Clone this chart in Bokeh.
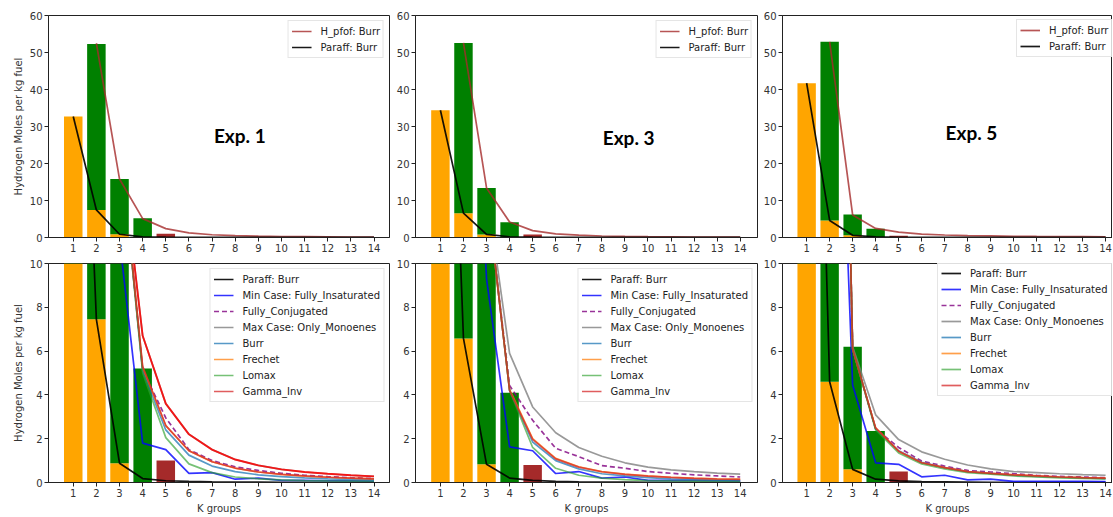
from bokeh.plotting import figure
from bokeh.layouts import column, row
from bokeh.models import FixedTicker, Range1d, Label
from bokeh.embed import file_html
from bokeh.resources import INLINE

# ---------------- data ----------------
k_groups = list(range(1, 15))          # x ticks / paraffin line x
k_lines = list(range(2, 15))           # x for the H lines
bar_k = [1, 2, 3, 4, 5]
exp_names = ["Exp. 1", "Exp. 3", "Exp. 5"]
y_label = "Hydrogen Moles per kg fuel"
x_label = "K groups"

# bars: orange (paraffin part), green top (stacked on orange), brown bar
exp1_orange = [32.7, 7.45, 0.88, 0, 0]
exp1_green_top = [0, 52.3, 15.8, 5.2, 0]
exp1_brown = [0, 0, 0, 0, 1.0]
exp3_orange = [34.4, 6.58, 0.83, 0, 0]
exp3_green_top = [0, 52.6, 13.4, 4.1, 0]
exp3_brown = [0, 0, 0, 0, 0.8]
exp5_orange = [41.7, 4.6, 0.6, 0, 0]
exp5_green_top = [0, 52.9, 6.2, 2.35, 0]
exp5_brown = [0, 0, 0, 0, 0.5]

# Paraff: Burr (x = 1..14)
exp1_paraff = [32.7, 7.45, 0.88, 0.18, 0.08, 0.05, 0.03, 0.02, 0.02, 0.01, 0.01, 0.01, 0.01, 0.01]
exp3_paraff = [34.4, 6.58, 0.83, 0.2, 0.1, 0.05, 0.03, 0.02, 0.02, 0.01, 0.01, 0.01, 0.01, 0.01]
exp5_paraff = [41.7, 4.6, 0.6, 0.15, 0.07, 0.04, 0.03, 0.02, 0.01, 0.01, 0.01, 0.01, 0.01, 0.01]

# H lines (x = 2..14)
exp1_min = [35, 11.1, 1.8, 1.5, 0.42, 0.45, 0.15, 0.2, 0.1, 0.1, 0.08, 0.07, 0.06]
exp1_conj = [52.5, 15.8, 5.15, 2.95, 1.5, 1.0, 0.72, 0.55, 0.42, 0.33, 0.27, 0.22, 0.18]
exp1_max = [52.5, 15.8, 6.7, 3.6, 2.2, 1.5, 1.05, 0.78, 0.6, 0.48, 0.4, 0.33, 0.28]
exp1_upper = [52.5, 15.8, 6.7, 3.6, 2.2, 1.5, 1.05, 0.78, 0.6, 0.48, 0.4, 0.33, 0.28]
exp1_burr = [52.5, 15.8, 5.1, 2.4, 1.25, 0.75, 0.5, 0.35, 0.27, 0.21, 0.17, 0.14, 0.12]
exp1_frechet = [52.5, 15.8, 5.25, 2.6, 1.45, 0.95, 0.65, 0.48, 0.37, 0.29, 0.24, 0.2, 0.17]
exp1_lomax = [52.5, 15.8, 5.0, 2.05, 0.85, 0.45, 0.25, 0.17, 0.12, 0.09, 0.07, 0.06, 0.05]
exp1_gamma = [52.5, 15.8, 5.3, 2.6, 1.45, 0.95, 0.66, 0.48, 0.37, 0.3, 0.24, 0.2, 0.17]

exp3_min = [30, 9.3, 1.63, 1.45, 0.41, 0.5, 0.2, 0.25, 0.1, 0.1, 0.1, 0.08, 0.07]
exp3_conj = [52.6, 13.4, 4.43, 2.84, 1.56, 1.18, 0.77, 0.65, 0.5, 0.42, 0.35, 0.3, 0.25]
exp3_max = [52.6, 13.4, 5.9, 3.45, 2.27, 1.6, 1.2, 0.9, 0.7, 0.58, 0.5, 0.43, 0.38]
exp3_burr = [52.6, 13.4, 4.2, 1.85, 1.0, 0.62, 0.4, 0.3, 0.22, 0.17, 0.14, 0.12, 0.1]
exp3_frechet = [52.6, 13.4, 4.25, 2.0, 1.1, 0.72, 0.5, 0.38, 0.3, 0.24, 0.2, 0.17, 0.15]
exp3_lomax = [52.6, 13.4, 4.2, 1.6, 0.65, 0.33, 0.2, 0.13, 0.09, 0.07, 0.06, 0.05, 0.04]
exp3_gamma = [52.6, 13.4, 4.2, 1.97, 1.08, 0.7, 0.49, 0.37, 0.29, 0.23, 0.19, 0.16, 0.14]

exp5_min = [32, 4.45, 0.9, 0.83, 0.26, 0.33, 0.12, 0.15, 0.05, 0.05, 0.05, 0.05, 0.04]
exp5_conj = [52.9, 6.1, 2.45, 1.6, 0.98, 0.75, 0.55, 0.48, 0.4, 0.33, 0.28, 0.25, 0.22]
exp5_max = [52.9, 6.2, 3.09, 1.96, 1.4, 1.06, 0.8, 0.62, 0.5, 0.45, 0.4, 0.36, 0.33]
exp5_burr = [52.9, 6.1, 2.45, 1.45, 0.92, 0.68, 0.5, 0.42, 0.33, 0.28, 0.24, 0.21, 0.18]
exp5_frechet = [52.9, 6.1, 2.49, 1.43, 0.9, 0.68, 0.5, 0.42, 0.35, 0.3, 0.25, 0.22, 0.2]
exp5_lomax = [52.9, 6.1, 2.4, 1.35, 0.85, 0.62, 0.45, 0.38, 0.3, 0.25, 0.21, 0.19, 0.16]
exp5_gamma = [52.9, 6.1, 2.49, 1.43, 0.9, 0.68, 0.5, 0.42, 0.35, 0.3, 0.25, 0.22, 0.2]

top_yticks = [0, 10, 20, 30, 40, 50, 60]
bottom_yticks = [0, 2, 4, 6, 8, 10]

exps = [
    dict(orange=exp1_orange, green=exp1_green_top, brown=exp1_brown, paraff=exp1_paraff,
         mn=exp1_min, conj=exp1_conj, mx=exp1_max, burr=exp1_burr, frechet=exp1_frechet,
         lomax=exp1_lomax, gamma=exp1_gamma, upper=exp1_upper),
    dict(orange=exp3_orange, green=exp3_green_top, brown=exp3_brown, paraff=exp3_paraff,
         mn=exp3_min, conj=exp3_conj, mx=exp3_max, burr=exp3_burr, frechet=exp3_frechet,
         lomax=exp3_lomax, gamma=exp3_gamma, upper=None),
    dict(orange=exp5_orange, green=exp5_green_top, brown=exp5_brown, paraff=exp5_paraff,
         mn=exp5_min, conj=exp5_conj, mx=exp5_max, burr=exp5_burr, frechet=exp5_frechet,
         lomax=exp5_lomax, gamma=exp5_gamma, upper=None),
]

# ---------------- layout ----------------
FONT = "DejaVu Sans"
cols = [  # width, border_left, border_right, x0, x1
    (392, 48, 3, -0.07, 14.67),
    (368, 23, 3, -0.08, 14.75),
    (352, 20, 0, -0.05, 14.30),
]
TOP_H, TOP_BT, TOP_BB = 256, 15, 19
BOT_H, BOT_BT, BOT_BB = 260, 7, 33
exp_label_pos = [(7.08, 27.5), (8.04, 27.0), (7.04, 28.3)]


def make_fig(col, height, bt, bb, ymax, yticks):
    w, bl, br, x0, x1 = col
    p = figure(width=w, height=height, output_backend="svg", toolbar_location=None,
               x_range=Range1d(x0, x1), y_range=Range1d(0, ymax),
               min_border_left=bl, min_border_right=br, min_border_top=bt,
               min_border_bottom=bb)
    p.xgrid.visible = False
    p.ygrid.visible = False
    p.outline_line_color = "#222222"
    p.outline_line_width = 1
    p.border_fill_color = "white"
    for ax in (p.xaxis[0], p.yaxis[0]):
        ax.major_tick_out = 4
        ax.major_tick_in = 0
        ax.minor_tick_line_color = None
        ax.axis_line_color = "#222222"
        ax.major_tick_line_color = "#222222"
        ax.major_label_text_font = FONT
        ax.major_label_text_font_size = "10px"
        ax.major_label_text_color = "#333333"
        ax.major_label_standoff = 2
        ax.axis_label_text_font = FONT
        ax.axis_label_text_font_size = "10px"
        ax.axis_label_text_font_style = "normal"
        ax.axis_label_text_color = "#333333"
        ax.axis_label_standoff = 3
    p.xaxis.ticker = FixedTicker(ticks=k_groups)
    p.yaxis.ticker = FixedTicker(ticks=yticks)
    return p


def style_legend(p, location):
    lg = p.legend[0]
    lg.location = location
    lg.margin = 5
    lg.padding = 3
    lg.spacing = 2
    lg.label_height = 14
    lg.glyph_height = 14
    lg.glyph_width = 20
    lg.label_standoff = 9
    lg.label_text_font = FONT
    lg.label_text_font_size = "10px"
    lg.label_text_color = "#222222"
    lg.border_line_color = "#cccccc"
    lg.background_fill_alpha = 0.85


def add_bars(p, d):
    p.vbar(x=bar_k, width=0.8, top=d["orange"], bottom=0, fill_color="#FFA500", line_color=None)
    p.vbar(x=bar_k, width=0.8, top=[g if g > 0 else o for g, o in zip(d["green"], d["orange"])],
           bottom=d["orange"], fill_color="#008000", line_color=None)
    p.vbar(x=bar_k, width=0.8, top=d["brown"], bottom=0, fill_color="#A52A2A", line_color=None)


top_figs, bot_figs = [], []
for i, (col, d) in enumerate(zip(cols, exps)):
    # ---- top ----
    pt = make_fig(col, TOP_H, TOP_BT, TOP_BB, 60, top_yticks)
    add_bars(pt, d)
    pt.line(k_lines, d["burr"], line_color="#A52A2A", line_alpha=0.8, line_width=1.7,
            legend_label="H_pfof: Burr")
    pt.line(k_groups, d["paraff"], line_color="black", line_alpha=0.9, line_width=1.7,
            legend_label="Paraff: Burr")
    lx, ly = exp_label_pos[i]
    pt.add_layout(Label(x=lx, y=ly, text=exp_names[i], text_font="Lato",
                        text_font_style="bold", text_font_size="19px",
                        text_baseline="middle", text_align="left", text_color="black"))
    if i == 0:
        pt.yaxis.axis_label = y_label
    style_legend(pt, "top_right" if i < 2 else (234, 180))
    top_figs.append(pt)

    # ---- bottom ----
    pb = make_fig(col, BOT_H, BOT_BT, BOT_BB, 10, bottom_yticks)
    add_bars(pb, d)
    pb.line(k_groups, d["paraff"], line_color="black", line_alpha=0.9, line_width=1.7,
            legend_label="Paraff: Burr")
    pb.line(k_lines, d["mn"], line_color="blue", line_alpha=0.8, line_width=1.7,
            legend_label="Min Case: Fully_Insaturated")
    pb.line(k_lines, d["conj"], line_color="purple", line_alpha=0.8, line_width=1.7,
            line_dash="5 3", legend_label="Fully_Conjugated")
    pb.line(k_lines, d["mx"], line_color="gray", line_alpha=0.8, line_width=1.7,
            legend_label="Max Case: Only_Monoenes")
    pb.line(k_lines, d["burr"], line_color="#1f77b4", line_alpha=0.75, line_width=1.7,
            legend_label="Burr")
    pb.line(k_lines, d["frechet"], line_color="#ff7f0e", line_alpha=0.75, line_width=1.7,
            legend_label="Frechet")
    pb.line(k_lines, d["lomax"], line_color="#2ca02c", line_alpha=0.65, line_width=1.7,
            legend_label="Lomax")
    pb.line(k_lines, d["gamma"], line_color="#d62728", line_alpha=0.75, line_width=1.7,
            legend_label="Gamma_Inv")
    if d["upper"] is not None:
        pb.line(k_lines, d["upper"], line_color="red", line_alpha=0.85, line_width=1.9)
    if i == 0:
        pb.yaxis.axis_label = y_label
    pb.xaxis.axis_label = x_label
    style_legend(pb, "top_right" if i < 2 else (155, 86))
    bot_figs.append(pb)

layout = column(row(*top_figs), row(*bot_figs))
open("out.html", "w").write(file_html(layout, INLINE))
